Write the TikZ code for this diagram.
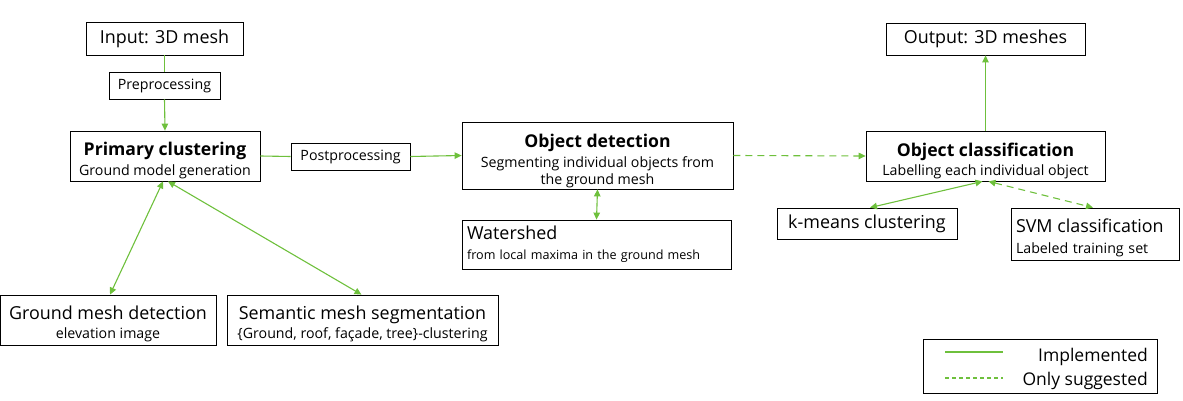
\documentclass[tikz,border=0pt]{standalone}
\usepackage{fontspec}
\setmainfont{Open Sans}
\usetikzlibrary{arrows.meta}
\definecolor{lg}{RGB}{110,192,60}
\newcommand{\bigf}{\fontsize{17.9}{21}\selectfont}
\newcommand{\titf}{\fontsize{17.6}{21}\selectfont\bfseries}
\newcommand{\subsk}[1]{\fontsize{14.2}{#1}\selectfont}
\newcommand{\tinysk}[1]{\fontsize{12.6}{#1}\selectfont}
\newcommand{\lift}[1]{\rule{0pt}{#1}}
\begin{document}
\begin{tikzpicture}[x=1pt,y=-1pt,
  box/.style={draw, line width=0.8pt, inner sep=0pt, align=center},
  conn/.style={draw=lg, line width=1.1pt},
  arr/.style={-{Triangle[length=7pt,width=6.5pt]}},
  darr/.style={{Triangle[length=7pt,width=6.5pt]}-{Triangle[length=7pt,width=6.5pt]}},
  sugg/.style={dash pattern=on 7pt off 5pt},
  legsugg/.style={dash pattern=on 4pt off 3pt}]
\useasboundingbox (0,0) rectangle (1183,401);
\node[box, minimum width=157pt, minimum height=33pt, font=\bigf] (in) at (164.5,38.5) {Input: 3D mesh};
\node[box, minimum width=111pt, minimum height=27pt, font=\subsk{17}] (pre) at (164.5,85.5) {Preprocessing};
\node[box, minimum width=190pt, minimum height=50pt, font=\subsk{20}] (pc) at (165,156) {{\titf\lift{23pt}Primary clustering}\\Ground model generation};
\node[box, minimum width=119pt, minimum height=27pt, font=\subsk{17}] (post) at (350.5,156.5) {Postprocessing};
\node[box, minimum width=271pt, minimum height=67pt, font=\subsk{17}] (od) at (597.5,155.5) {{\titf\lift{25pt}Object detection}\\[3pt]Segmenting individual objects from\\the ground mesh};
\node[box, minimum width=269pt, minimum height=49pt, text width=259pt, inner xsep=5pt, align=left, font=\tinysk{20}] (ws) at (596.5,244.5) {{\bigf Watershed}\\from local maxima in the ground mesh};
\node[box, minimum width=199pt, minimum height=32pt, font=\bigf] (out) at (985.5,39) {Output: 3D meshes};
\node[box, minimum width=239pt, minimum height=50pt, font=\subsk{19}] (oc) at (985.5,156) {{\titf\lift{23pt}Object classification}\\Labelling each individual object};
\node[box, minimum width=180pt, minimum height=31pt, font=\bigf] (km) at (867,223.5) {k-means clustering};
\node[box, minimum width=168pt, minimum height=52pt, text width=158pt, inner xsep=5pt, align=left, font=\subsk{21}] (svm) at (1095,234) {{\bigf\lift{21pt}SVM classification}\\Labeled training set};
\node[box, minimum width=216pt, minimum height=50pt, font=\subsk{19}] (gm) at (108,320) {{\bigf\lift{21pt}Ground mesh detection}\\elevation image};
\node[box, minimum width=271pt, minimum height=50pt, font=\subsk{19}] (sm) at (362.5,320) {{\bigf\lift{21pt}Semantic mesh segmentation}\\\{Ground, roof, façade, tree\}-clustering};
\node[box, minimum width=234pt, minimum height=54pt] (leg) at (1040,366) {};
\coordinate (l1a) at (945,352); \coordinate (l1b) at (1003,352);
\coordinate (l2a) at (945,378); \coordinate (l2b) at (1003,378);
\node[anchor=base east, inner sep=0pt, font=\fontsize{17.5}{21}\selectfont] (t1) at (1148,361) {Implemented};
\node[anchor=base east, inner sep=0pt, font=\fontsize{17.5}{21}\selectfont] (t2) at (1148,385) {Only suggested};
\draw[conn] (l1a) -- (l1b);
\draw[conn, legsugg] (l2a) -- (l2b);
% connectors
\draw[conn] (in.south) -- (pre.north);
\draw[conn, arr] (pre.south) -- (pc.north);
\draw[conn] (pc.east) -- (post.west);
\draw[conn, arr] (post.east) -- (od.west);
\draw[conn, arr, sugg] (od.east) -- (oc.west);
\draw[conn, arr] (oc.north) -- (out.south);
\draw[conn, darr] (od.south) -- (ws.north);
\draw[conn, darr] ([xshift=-2pt]pc.south) -- ([xshift=2pt]gm.north);
\draw[conn, darr] ([xshift=3pt]pc.south) -- ([xshift=-1pt]sm.north);
\draw[conn, darr] ([xshift=-3pt]oc.south) -- ([xshift=3pt]km.north);
\draw[conn, darr, sugg] ([xshift=3pt]oc.south) -- ([xshift=-2pt]svm.north);
\end{tikzpicture}
\end{document}
